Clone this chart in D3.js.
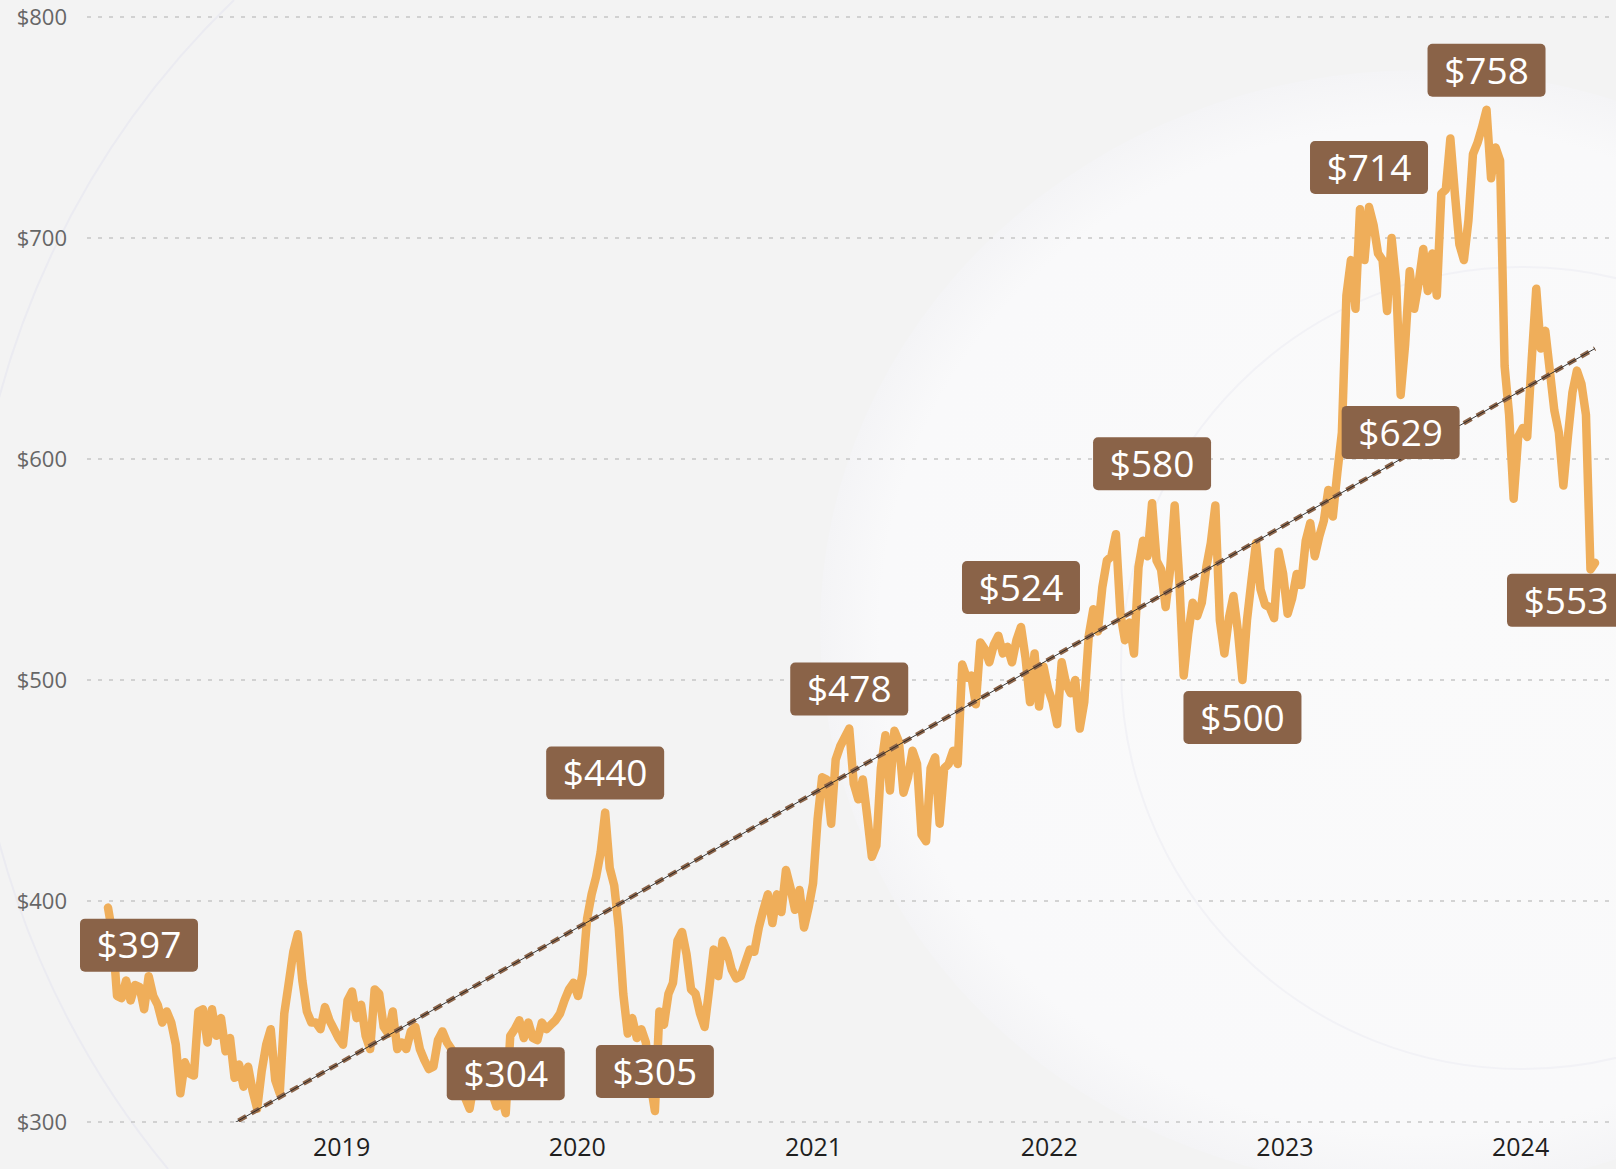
<!DOCTYPE html>
<html lang="en">
<head>
<meta charset="utf-8">
<title>Price history</title>
<script src="https://cdn.jsdelivr.net/npm/d3@7"></script>
<style>
  html, body { margin: 0; padding: 0; background: #f3f3f3; }
  svg { display: block; }
  text { font-family: "Segoe UI", "Open Sans", "Noto Sans", sans-serif; }
</style>
</head>
<body>
<svg id="chart"></svg>
<script>

// weekly closes, first week of Jan 2018 -> Apr 2024
const startWeek = "2018-01-05";
const prices = [
  397, 385, 357, 356, 364, 355, 362, 361, 351, 366,
  357, 353, 345, 350, 345, 335, 313, 327, 322, 321,
  350, 351, 336, 351, 339, 347, 332, 338, 320, 326,
  316, 325, 314, 306, 323, 335, 342, 319, 313, 349,
  363, 377, 385, 364, 350, 345, 345, 342, 352, 346,
  342, 338, 335, 355, 359, 347, 353, 339, 333, 360,
  358, 343, 340, 350, 333, 336, 333, 341, 343, 333,
  328, 324, 325, 337, 341, 336, 333, 322, 314, 311,
  306, 318, 323, 315, 320, 313, 307, 312, 304, 339,
  342, 346, 338, 345, 338, 337, 345, 342, 344, 346,
  349, 355, 360, 363, 357, 367, 392, 403, 411, 422,
  440, 415, 407, 388, 358, 340, 347, 338, 342, 336,
  318, 305, 350, 344, 358, 363, 382, 386, 376, 360,
  358, 349, 343, 360, 378, 366, 382, 377, 369, 365,
  366, 372, 378, 377, 388, 396, 403, 390, 403, 395,
  414, 406, 396, 405, 388, 397, 408, 437, 456, 455,
  435, 464, 470, 474, 478, 453, 446, 455, 438, 420,
  425, 460, 475, 450, 477, 472, 449, 456, 468, 462,
  430, 427, 460, 465, 435, 460, 462, 468, 462, 507,
  501, 502, 489, 517, 514, 508, 516, 520, 512, 515,
  508, 518, 524, 510, 490, 512, 488, 506, 496, 490,
  480, 508, 498, 494, 500, 478, 490, 520, 532, 522,
  542, 554, 556, 566, 530, 518, 526, 512, 551, 563,
  556, 580, 554, 550, 533, 550, 579, 546, 502, 521,
  535, 529, 535, 551, 562, 579, 527, 512, 528, 538,
  522, 500, 527, 545, 562, 541, 534, 533, 528, 558,
  548, 530, 537, 548, 543, 563, 571, 556, 565, 572,
  586, 574, 594, 612, 674, 690, 668, 713, 690, 714,
  706, 693, 690, 667, 700, 680, 629, 652, 685, 668,
  680, 695, 676, 693, 674, 720, 722, 745, 720, 697,
  690, 708, 738, 743, 750, 758, 727, 741, 735, 642,
  620, 582, 610, 614, 610, 645, 677, 650, 658, 640,
  622, 612, 588, 610, 630, 640, 634, 620, 550, 553
];

// trend line values at first and last week
const trendEnds = [267, 650];

const yTicks = [300, 400, 500, 600, 700, 800];

// annotated weeks (index into prices) and where the tag sits
const calloutWeeks = [0, 88, 110, 121, 164, 202, 231, 251, 279, 286, 305, 329];
const calloutSide  = ["below", "above", "above", "above", "above", "above",
                      "above", "below", "above", "below", "above", "below"];

const width = 1616, height = 1169;

const svg = d3.select("#chart")
  .attr("width", width)
  .attr("height", height);

const parse = d3.timeParse("%Y-%m-%d");
const t0 = parse(startWeek);
const data = prices.map(function(v, i) {
  return { date: d3.timeDay.offset(t0, i * 7), value: v };
});

const x = d3.scaleTime()
  .domain([data[0].date, data[data.length - 1].date])
  .range([108, 1595]);

const y = d3.scaleLinear()
  .domain([300, 800])
  .range([1122, 17]);

// background
svg.append("rect")
  .attr("width", width).attr("height", height)
  .attr("fill", "#f3f3f3");

const glow = svg.append("defs").append("radialGradient")
  .attr("id", "glow");
glow.append("stop").attr("offset", "0%").attr("stop-color", "#fafafa");
glow.append("stop").attr("offset", "90%").attr("stop-color", "#f9f9fa");
glow.append("stop").attr("offset", "100%").attr("stop-color", "#f4f4f6");

svg.append("ellipse")
  .attr("cx", 1420).attr("cy", 630)
  .attr("rx", 600).attr("ry", 560)
  .attr("fill", "url(#glow)");

// faint arc on the left side only
svg.append("path")
  .attr("d", "M234,0 A860,860 0 0 0 168,1169")
  .attr("fill", "none")
  .attr("stroke", "#ebebf1")
  .attr("stroke-width", 2);

svg.append("circle")
  .attr("cx", 1522).attr("cy", 668).attr("r", 401)
  .attr("fill", "none")
  .attr("stroke", "#f2f2f6")
  .attr("stroke-width", 2);

// gridlines + y labels
const grid = svg.append("g").attr("class", "grid");
grid.selectAll("line")
  .data(yTicks)
  .enter().append("line")
  .attr("x1", 87).attr("x2", width)
  .attr("y1", function(d) { return y(d); })
  .attr("y2", function(d) { return y(d); })
  .attr("stroke", "#c6c6c6")
  .attr("stroke-width", 1.5)
  .attr("stroke-dasharray", "4,7");

grid.selectAll("text")
  .data(yTicks)
  .enter().append("text")
  .attr("x", 67)
  .attr("y", function(d) { return y(d); })
  .attr("dy", "0.35em")
  .attr("text-anchor", "end")
  .attr("font-size", 22)
  .attr("fill", "#666666")
  .text(function(d) { return "$" + d; });

// x axis (years)
const xAxis = svg.append("g")
  .attr("transform", "translate(0,1138)")
  .call(d3.axisBottom(x)
    .ticks(d3.timeYear.every(1))
    .tickFormat(d3.timeFormat("%Y"))
    .tickSize(0)
    .tickPadding(0));
xAxis.select(".domain").remove();
xAxis.selectAll("text")
  .attr("font-size", 25)
  .attr("font-family", "\"Segoe UI\", \"Open Sans\", sans-serif")
  .attr("fill", "#1f1f1f")
  .attr("dy", "0.71em");

// price line
const line = d3.line()
  .x(function(d) { return x(d.date); })
  .y(function(d) { return y(d.value); });

svg.append("path")
  .datum(data)
  .attr("d", line)
  .attr("fill", "none")
  .attr("stroke", "#efae5a")
  .attr("stroke-width", 8.5)
  .attr("stroke-linejoin", "round")
  .attr("stroke-linecap", "round");

// trend line, clipped to the plot floor
svg.append("clipPath").attr("id", "plotClip")
  .append("rect")
  .attr("x", 0).attr("y", 0)
  .attr("width", width).attr("height", y(300));

const trend = [
  { date: data[0].date, value: trendEnds[0] },
  { date: data[data.length - 1].date, value: trendEnds[1] }
];
const trendG = svg.append("g").attr("clip-path", "url(#plotClip)");
trendG.append("path")
  .datum(trend)
  .attr("d", line)
  .attr("stroke", "#8a6348")
  .attr("stroke-width", 4.5)
  .attr("stroke-dasharray", "9,6");
trendG.append("path")
  .datum(trend)
  .attr("d", line)
  .attr("stroke", "#222")
  .attr("stroke-width", 0.9);

// value tags
const boxW = 118, boxH = 53;
const tags = svg.append("g").attr("class", "tags")
  .selectAll("g")
  .data(calloutWeeks.map(function(w, k) {
    return { d: data[w], side: calloutSide[k] };
  }))
  .enter().append("g")
  .attr("transform", function(t) {
    const px = x(t.d.date), py = y(t.d.value);
    const cx = Math.max(80 + boxW / 2, Math.min(1625 - boxW / 2, px));
    const top = t.side === "above" ? py - 13 - boxH : py + 11;
    return "translate(" + (cx - boxW / 2) + "," + top + ")";
  });

tags.append("rect")
  .attr("width", boxW).attr("height", boxH)
  .attr("rx", 5).attr("ry", 5)
  .attr("fill", "#8a6348");

tags.append("text")
  .attr("x", boxW / 2)
  .attr("y", boxH / 2)
  .attr("dy", "0.36em")
  .attr("text-anchor", "middle")
  .attr("font-size", 37)
  .attr("fill", "#ffffff")
  .text(function(t) { return "$" + t.d.value; });

</script>
</body>
</html>
